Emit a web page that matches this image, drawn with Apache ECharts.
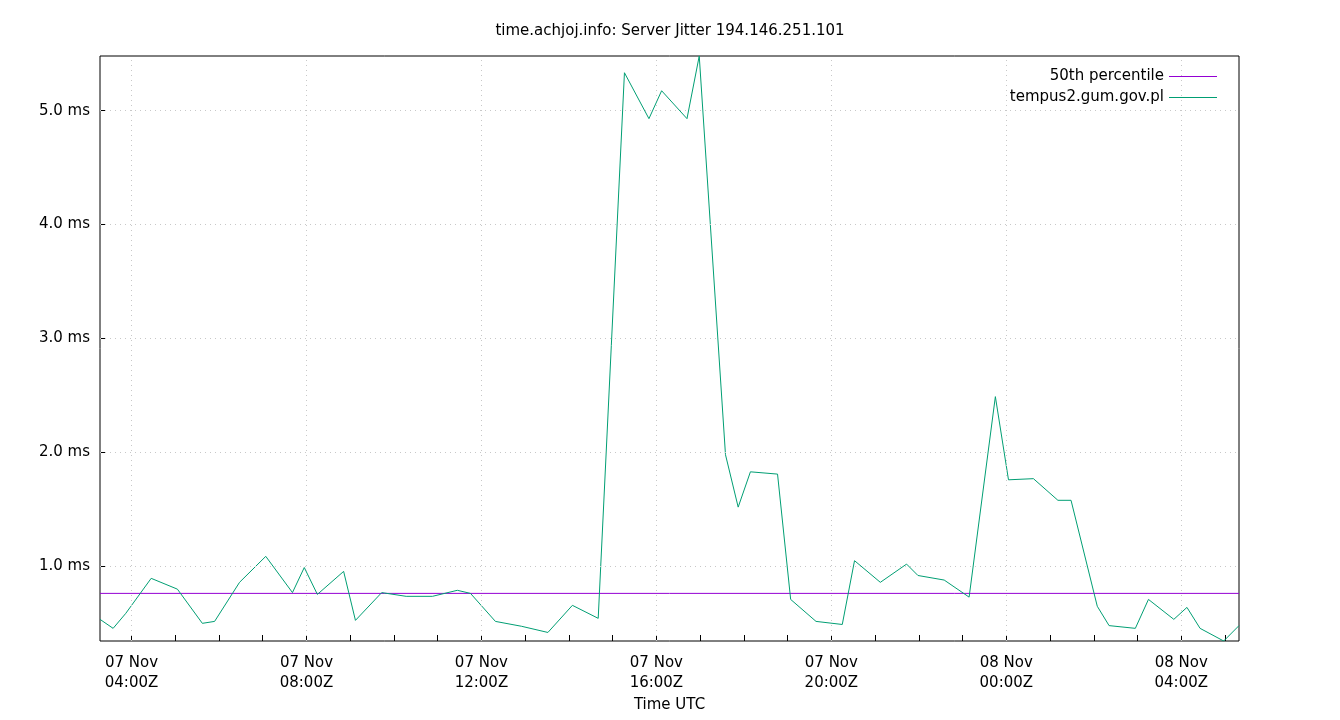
<!DOCTYPE html>
<html>
<head>
<meta charset="utf-8">
<script src="https://cdn.jsdelivr.net/npm/echarts@6/dist/echarts.min.js"></script>
<style>html,body{margin:0;background:#fff}#c{width:1340px;height:720px}</style>
</head>
<body>
<div id="c"></div>
<script>
// hours since 07 Nov 00:00 UTC
const hours = [3.28, 3.58, 3.87, 4.45, 5.05, 5.62, 5.9, 6.47, 7.07, 7.68, 7.95, 8.25, 8.85, 9.12, 9.72, 10.28, 10.88, 11.45, 11.75,
  12.32, 12.92, 13.52, 14.08, 14.67, 15.27, 15.83, 16.12, 16.7, 16.98, 17.58, 17.87, 18.15, 18.77, 19.07, 19.65, 20.25, 20.53,
  21.12, 21.72, 21.98, 22.58, 23.15, 23.75, 24.05, 24.62, 25.18, 25.48, 26.08, 26.35, 26.95, 27.25, 27.83, 28.13, 28.43, 28.97, 29.32];
const jitter = [0.535, 0.456, 0.588, 0.895, 0.80, 0.50, 0.517, 0.86, 1.088, 0.77, 0.99, 0.754, 0.956, 0.526, 0.77, 0.737, 0.737, 0.79, 0.763,
  0.517, 0.474, 0.42, 0.658, 0.544, 5.333, 4.93, 5.175, 4.93, 5.48, 1.98, 1.52, 1.83, 1.81, 0.71, 0.517, 0.49, 1.05,
  0.86, 1.02, 0.92, 0.88, 0.73, 2.49, 1.76, 1.77, 1.58, 1.58, 0.65, 0.48, 0.456, 0.71, 0.535, 0.64, 0.456, 0.345, 0.48];
const median = 0.763;
const xTicks = [4, 8, 12, 16, 20, 24, 28];
const xTickLabels = ['07 Nov\n04:00Z', '07 Nov\n08:00Z', '07 Nov\n12:00Z', '07 Nov\n16:00Z', '07 Nov\n20:00Z', '08 Nov\n00:00Z', '08 Nov\n04:00Z'];
const xMinor = [4, 5, 6, 7, 8, 9, 10, 11, 12, 13, 14, 15, 16, 17, 18, 19, 20, 21, 22, 23, 24, 25, 26, 27, 28, 29];
const yTicks = [1, 2, 3, 4, 5];
const xMin = 3.28, xMax = 29.32, yMin = 0.345, yMax = 5.48;

const chart = echarts.init(document.getElementById('c'));
const gridLine = { color: '#c8c8c8', type: [1, 4], width: 1 };
chart.setOption({
  animation: false,
  textStyle: { fontFamily: 'DejaVu Sans', color: '#000' },
  title: { text: 'time.achjoj.info: Server Jitter 194.146.251.101', left: 'center', top: 19,
    textStyle: { fontSize: 15, fontWeight: 'normal', color: '#000' } },
  legend: {
    orient: 'vertical', right: 118, top: 64, align: 'right', itemWidth: 48, itemHeight: 1, itemGap: 6,
    icon: 'rect', textStyle: { fontSize: 15, color: '#000' },
    data: ['50th percentile', 'tempus2.gum.gov.pl']
  },
  grid: { left: 100, right: 101, top: 56, bottom: 79, show: true, borderColor: '#000', borderWidth: 1 },
  xAxis: {
    type: 'value', min: xMin, max: xMax,
    name: 'Time UTC', nameLocation: 'middle', nameGap: 56, nameTextStyle: { fontSize: 15, color: '#000' },
    axisLine: { show: false },
    axisTick: { inside: true, length: 6, lineStyle: { color: '#000' }, customValues: xMinor },
    axisLabel: { fontSize: 15, color: '#000', lineHeight: 20, margin: 12, customValues: xTicks,
      formatter: v => xTickLabels[xTicks.indexOf(v)] },
    splitLine: { show: false }
  },
  yAxis: {
    type: 'value', min: yMin, max: yMax,
    axisLine: { show: false },
    axisTick: { inside: true, length: 6, lineStyle: { color: '#000' }, customValues: yTicks },
    axisLabel: { fontSize: 15, color: '#000', margin: 10, customValues: yTicks, formatter: v => v.toFixed(1) + ' ms' },
    splitLine: { show: false }
  },
  series: [
    {
      name: 'grid', type: 'line', data: [], silent: true,
      markLine: {
        silent: true, symbol: 'none', label: { show: false }, lineStyle: gridLine, animation: false,
        data: xTicks.map(v => ({ xAxis: v })).concat(yTicks.map(v => ({ yAxis: v })))
      }
    },
    {
      name: '50th percentile', type: 'line', symbol: 'none', color: '#9400d3',
      lineStyle: { width: 1 }, data: [[xMin, median], [xMax, median]]
    },
    {
      name: 'tempus2.gum.gov.pl', type: 'line', symbol: 'none', color: '#009e73',
      lineStyle: { width: 1 }, data: hours.map((h, i) => [h, jitter[i]])
    }
  ]
});
</script>
</body>
</html>
